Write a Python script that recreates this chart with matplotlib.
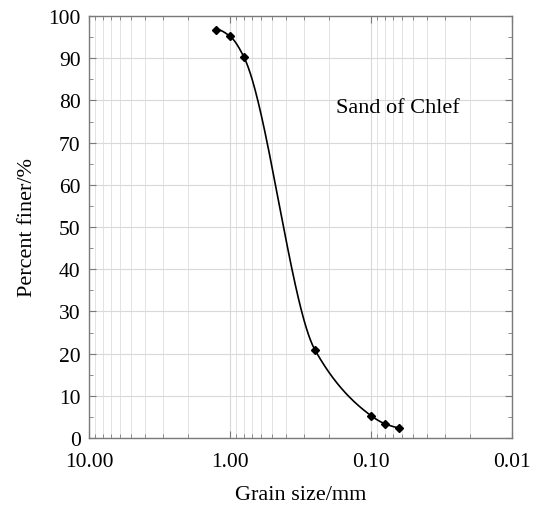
import numpy as np
import matplotlib
matplotlib.use("Agg")
import matplotlib.pyplot as plt
from matplotlib.ticker import FixedLocator, LogLocator, NullFormatter, MultipleLocator

plt.rcParams['font.family'] = ['Liberation Serif', 'DejaVu Serif']

grain_size = [1.25, 1.0, 0.8, 0.25, 0.1, 0.08, 0.063]
percent_finer = [96.8, 95.2, 90.4, 20.9, 5.3, 3.4, 2.4]
x_tick_values = [10, 1, 0.1, 0.01]
x_tick_labels = ["10.00", "1.00", "0.10", "0.01"]
y_tick_values = list(range(0, 101, 10))


def pchip(xk, yk, xq):
    xk = np.asarray(xk, float); yk = np.asarray(yk, float)
    h = np.diff(xk); d = np.diff(yk) / h
    n = len(xk); m = np.zeros(n)
    for i in range(1, n - 1):
        if d[i - 1] * d[i] > 0:
            w1 = 2 * h[i] + h[i - 1]; w2 = h[i] + 2 * h[i - 1]
            m[i] = (w1 + w2) / (w1 / d[i - 1] + w2 / d[i])
    m[0] = ((2 * h[0] + h[1]) * d[0] - h[0] * d[1]) / (h[0] + h[1])
    if np.sign(m[0]) != np.sign(d[0]): m[0] = 0
    m[-1] = ((2 * h[-1] + h[-2]) * d[-1] - h[-1] * d[-2]) / (h[-1] + h[-2])
    if np.sign(m[-1]) != np.sign(d[-1]): m[-1] = 0
    yq = np.empty_like(xq)
    for j, x in enumerate(xq):
        i = min(max(np.searchsorted(xk, x) - 1, 0), n - 2)
        t = (x - xk[i]) / h[i]
        h00 = 2*t**3 - 3*t**2 + 1; h10 = t**3 - 2*t**2 + t
        h01 = -2*t**3 + 3*t**2; h11 = t**3 - t**2
        yq[j] = h00*yk[i] + h10*h[i]*m[i] + h01*yk[i+1] + h11*h[i]*m[i+1]
    return yq

fig = plt.figure(figsize=(5.39, 5.06), dpi=100)
ax = fig.add_axes([89/539, 1 - 439/506, (512-89)/539, (439-17)/506])

lx = np.log10(grain_size)[::-1]
ly = np.array(percent_finer)[::-1]
xq = np.linspace(lx[0], lx[-1], 400)
yq = pchip(lx, ly, xq)
ax.plot(10**xq, yq, color='black', lw=1.2, zorder=3)
ax.plot(grain_size, percent_finer, linestyle='none', marker='D', ms=4.5,
        color='black', zorder=4)

ax.set_xscale('log')
ax.set_xlim(10, 0.01)
ax.set_ylim(0, 100)
ax.xaxis.set_major_locator(FixedLocator(x_tick_values))
ax.set_xticklabels(x_tick_labels)
ax.xaxis.set_minor_locator(LogLocator(base=10, subs=np.arange(2, 10)))
ax.xaxis.set_minor_formatter(NullFormatter())
ax.set_yticks(y_tick_values)
ax.yaxis.set_minor_locator(MultipleLocator(5))

ax.grid(True, which='major', color='#d9d9d9', lw=0.8)
ax.grid(True, which='minor', axis='x', color='#e3e3e3', lw=0.7)
ax.set_axisbelow(True)

for s in ax.spines.values():
    s.set_color('#7a7a7a')
    s.set_linewidth(1.0)
ax.tick_params(which='both', direction='in', top=True, right=True,
               colors='#7a7a7a', labelcolor='black', labelsize=15.5)
ax.tick_params(which='major', length=5)
ax.tick_params(which='minor', length=3)
ax.tick_params(axis='x', pad=10)
ax.tick_params(axis='y', pad=6)

ax.text(0.178, 78.4, "Sand of Chlef", fontsize=16, ha='left', va='center')
ax.set_xlabel("Grain size/mm", fontsize=16, labelpad=10)
ax.set_ylabel("Percent finer/%", fontsize=16, labelpad=8)

fig.savefig("out.png", dpi=100)
